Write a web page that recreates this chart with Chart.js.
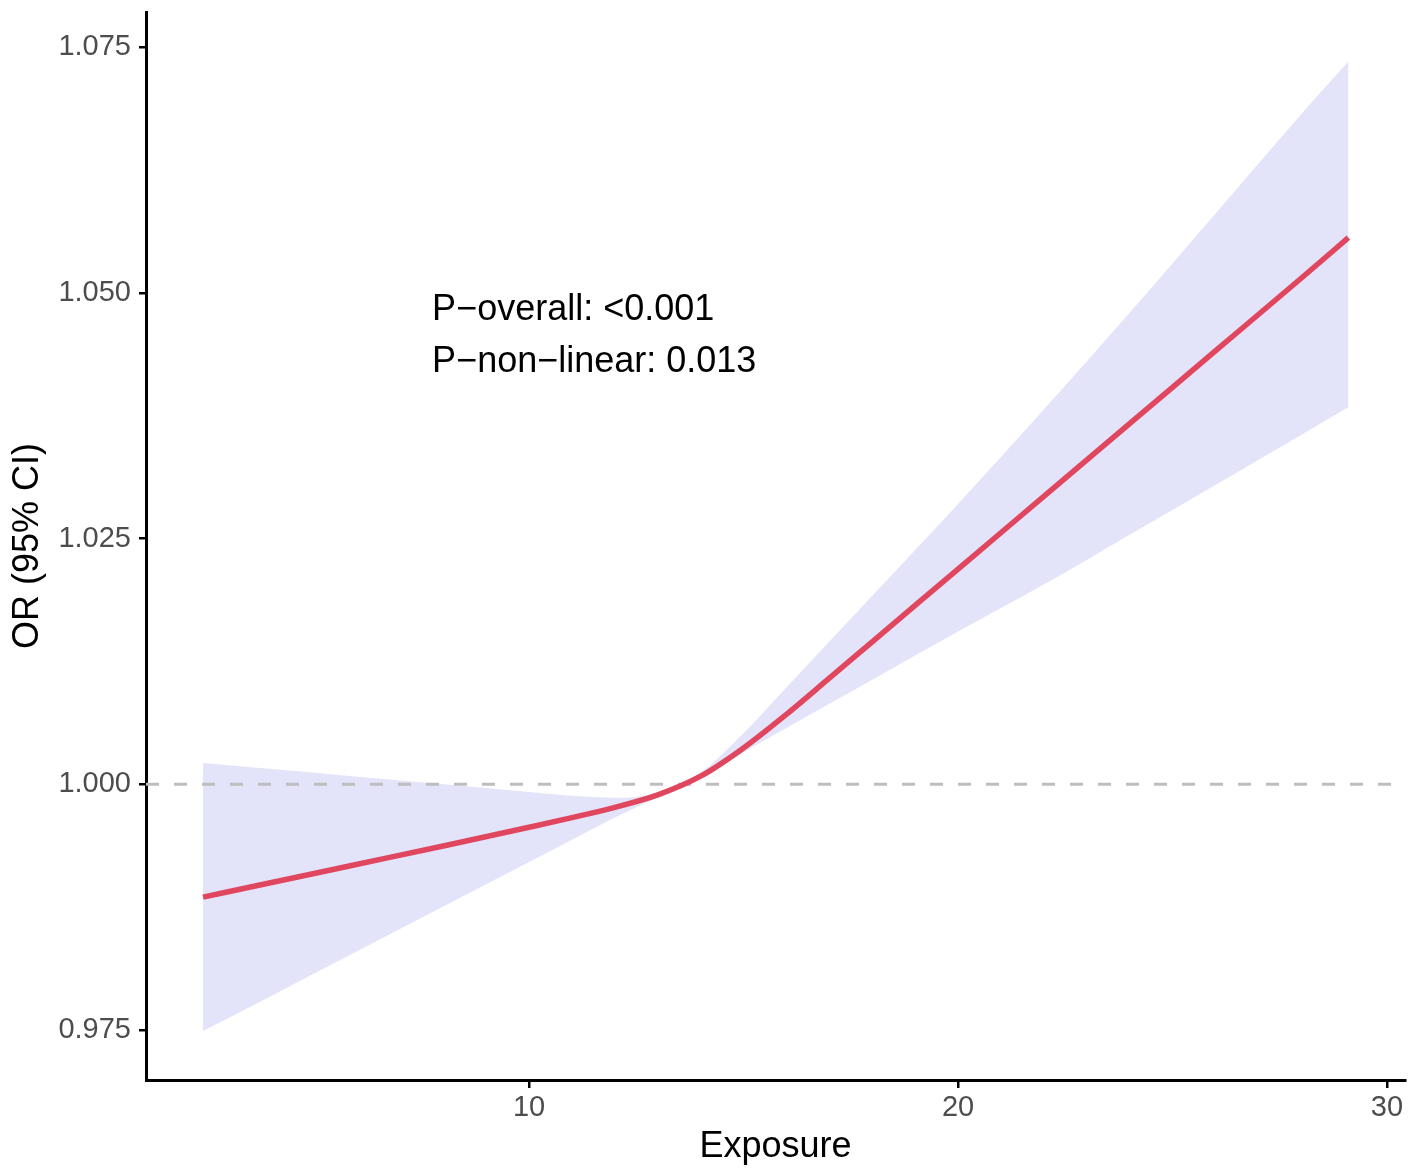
<!DOCTYPE html>
<html>
<head>
<meta charset="utf-8">
<script src="https://cdn.jsdelivr.net/npm/chart.js@4"></script>
<style>
  html, body { margin: 0; padding: 0; background: #ffffff; }
  #wrap { width: 1418px; height: 1173px; }
</style>
</head>
<body>
<div id="wrap"><canvas id="c" width="1418" height="1173"></canvas></div>
<script>
// ---- data ----
const exposure = [2.4, 4, 6, 8, 10, 11, 12, 13, 14, 15, 16, 17, 18, 20, 22, 24, 26, 28, 29.1];
const orValues = [0.98851, 0.99000, 0.99186, 0.99372, 0.99562, 0.99660, 0.99765, 0.99892, 1.00082, 1.00370, 1.00712, 1.01080, 1.01450, 1.02190, 1.02930, 1.03670, 1.04410, 1.05150, 1.05563];
const ciUpper  = [1.00217, 1.00155, 1.00077, 0.99999, 0.99922, 0.99883, 0.99863, 0.99912, 1.00120, 1.00519, 1.00985, 1.01452, 1.01919, 1.02853, 1.03814, 1.04799, 1.05807, 1.06820, 1.07356];
const ciLower  = [0.97488, 0.97848, 0.98302, 0.98755, 0.99209, 0.99436, 0.99662, 0.99868, 1.00060, 1.00326, 1.00573, 1.00819, 1.01064, 1.01555, 1.02032, 1.02540, 1.03047, 1.03555, 1.03837];
const refValue = 1.0;
const yTickValues = [0.975, 1.000, 1.025, 1.050, 1.075];
const xTickValues = [10, 20, 30];
const xRange = [1.07, 30.42];
const yRange = [0.9699, 1.0786];
const annotationLines = ["P\u2212overall: <0.001", "P\u2212non\u2212linear: 0.013"];
const annotationAnchor = { x: 7.74, y: [1.04827, 1.04299] };
const xTitle = "Exposure";
const yTitle = "OR (95% CI)";

const FONT = "'Liberation Sans', Arial, Helvetica, sans-serif";

const pts = (ys) => exposure.map((x, i) => ({ x: x, y: ys[i] }));

const annotationPlugin = {
  id: 'pAnnot',
  afterDatasetsDraw(chart) {
    const ctx = chart.ctx;
    const xs = chart.scales.x, ys = chart.scales.y;
    ctx.save();
    ctx.fillStyle = '#000000';
    ctx.font = '36px ' + FONT;
    ctx.textAlign = 'left';
    ctx.textBaseline = 'middle';
    annotationLines.forEach((t, i) => {
      ctx.fillText(t, xs.getPixelForValue(annotationAnchor.x), ys.getPixelForValue(annotationAnchor.y[i]));
    });
    ctx.restore();
  }
};

new Chart(document.getElementById('c'), {
  type: 'scatter',
  data: {
    datasets: [
      {
        label: 'upper',
        data: pts(ciUpper),
        showLine: true,
        borderWidth: 0,
        borderColor: 'rgba(0,0,0,0)',
        backgroundColor: '#E3E3FA',
        pointRadius: 0,
        fill: '+1',
        cubicInterpolationMode: 'monotone',
        order: 3
      },
      {
        label: 'lower',
        data: pts(ciLower),
        showLine: true,
        borderWidth: 0,
        borderColor: 'rgba(0,0,0,0)',
        backgroundColor: '#E3E3FA',
        pointRadius: 0,
        fill: false,
        cubicInterpolationMode: 'monotone',
        order: 3
      },
      {
        label: 'ref',
        data: [{ x: xRange[0], y: refValue }, { x: xRange[1], y: refValue }],
        showLine: true,
        borderColor: '#BEBEBE',
        borderWidth: 3,
        borderDash: [13, 15],
        pointRadius: 0,
        fill: false,
        order: 2
      },
      {
        label: 'OR',
        data: pts(orValues),
        showLine: true,
        borderColor: '#E0475F',
        borderWidth: 5.5,
        pointRadius: 0,
        fill: false,
        cubicInterpolationMode: 'monotone',
        borderCapStyle: 'butt',
        order: 1
      }
    ]
  },
  options: {
    responsive: false,
    animation: false,
    devicePixelRatio: 1,
    layout: { padding: { top: 12, right: 13, left: 0, bottom: 0 } },
    plugins: {
      legend: { display: false },
      tooltip: { enabled: false }
    },
    scales: {
      x: {
        type: 'linear',
        min: xRange[0],
        max: xRange[1],
        afterBuildTicks: (s) => { s.ticks = xTickValues.map(v => ({ value: v })); },
        afterFit: (s) => { s.height = 93; s.paddingLeft = 0; s.paddingRight = 0; },
        border: { display: true, color: '#000000', width: 3 },
        grid: { display: true, drawOnChartArea: false, drawTicks: true, tickLength: 8, color: '#000000', lineWidth: 2.5 },
        ticks: {
          color: '#4D4D4D',
          font: { size: 29, family: FONT },
          padding: 3,
          maxRotation: 0,
          callback: (v) => String(v)
        },
        title: {
          display: true,
          text: xTitle,
          color: '#000000',
          font: { size: 36, family: FONT },
          padding: { top: 0, bottom: 4 }
        }
      },
      y: {
        type: 'linear',
        min: yRange[0],
        max: yRange[1],
        afterBuildTicks: (s) => { s.ticks = yTickValues.map(v => ({ value: v })); },
        afterFit: (s) => { s.width = 146; s.paddingTop = 0; s.paddingBottom = 0; },
        border: { display: true, color: '#000000', width: 3 },
        grid: { display: true, drawOnChartArea: false, drawTicks: true, tickLength: 7, color: '#000000', lineWidth: 2.5 },
        ticks: {
          color: '#4D4D4D',
          font: { size: 29, family: FONT },
          padding: 8,
          callback: (v) => Number(v).toFixed(3)
        },
        title: {
          display: true,
          text: yTitle,
          color: '#000000',
          font: { size: 36, family: FONT },
          padding: { top: 6, bottom: 0 }
        }
      }
    }
  },
  plugins: [annotationPlugin]
});
</script>
</body>
</html>
